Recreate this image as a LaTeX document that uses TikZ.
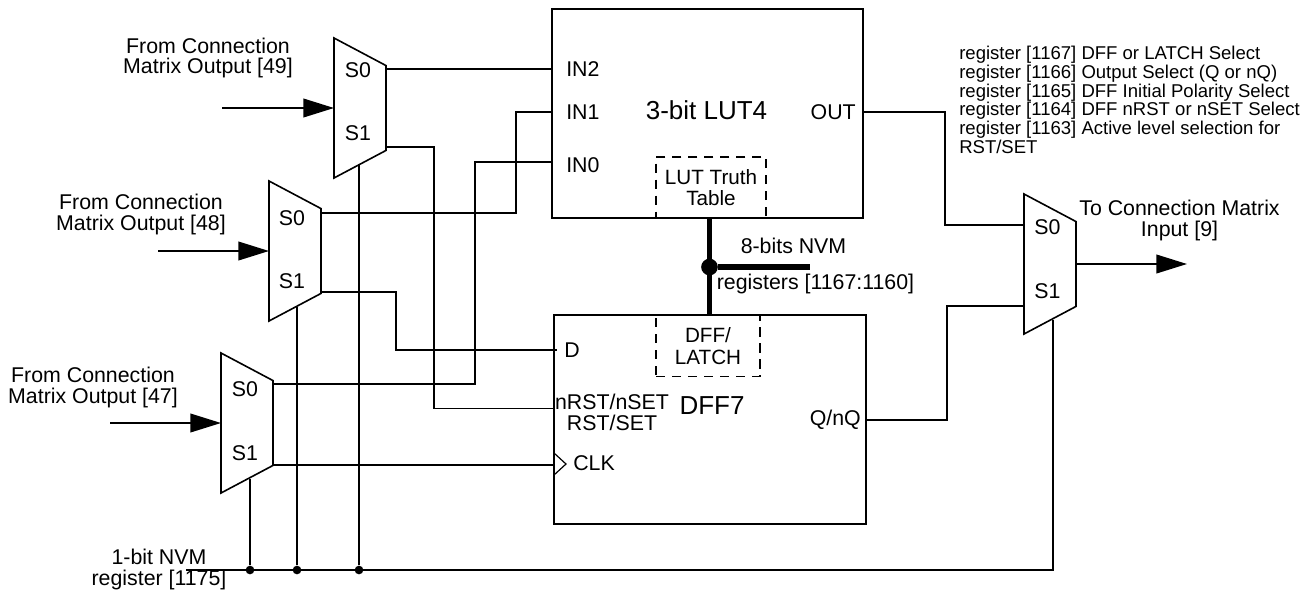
\documentclass[tikz,border=0pt]{standalone}
\usepackage{fontspec}
\setmainfont{Liberation Sans}
\usetikzlibrary{shapes.geometric,arrows.meta}
\tikzset{
  % Base box
  BX/.style={rectangle,draw,line width=1.4pt,inner sep=0pt,
             minimum width=233.5pt,minimum height=157pt},
  % Multiplexer
  MX/.style={trapezium,trapezium angle=72,trapezium stretches=true,shape border rotate=270,draw,line width=1.2pt,
             inner sep=1pt,outer sep=0pt,minimum width=105pt,minimum height=39pt},
  % Dashed inner box
  DB/.style={rectangle,draw,dashed,dash pattern=on 7pt off 5pt,line width=1.1pt,inner sep=0pt,
             align=center,font=\fontsize{15.5}{16}\selectfont},
  % Arrows and wires
  wire/.style={line width=1.4pt},
  arr/.style={-{Triangle[length=23pt,width=14pt]},line width=1.4pt},
  bus/.style={line width=3.8pt},
  % Junctions
  dot/.style={circle,fill,inner sep=0pt,minimum size=6.5pt},
  bigdot/.style={circle,fill,inner sep=0pt,minimum size=12.5pt},
  % Label styles
  lb/.style={font=\fontsize{16}{15.6}\selectfont,align=center,inner sep=0pt},
  tt/.style={font=\fontsize{19.5}{20}\selectfont,inner sep=0pt}
}
\begin{document}
\begin{tikzpicture}[x=0.75pt,y=-0.75pt]
  \useasboundingbox (0,0) rectangle (1314,597);
  % boxes
  \node[BX,minimum width=233pt] (lut) at (707.5,113.5) {};
  \node[BX] (dff) at (710,419.5) {};
  \node[tt] (lutname) at (706.5,110.5) {3-bit LUT4};
  \node[tt] (dffname) at (712,405.5) {DFF7};
  \node[DB,minimum width=82.5pt,minimum height=46pt] (truth) at (711,187.5) {LUT Truth\\Table};
  \node[DB,minimum width=78pt,minimum height=46pt] (latch) at (708,346) {DFF/\\LATCH};
  % muxes
  \node[MX] (mux49) at (360,108) {};
  \node[MX] (mux48) at (295,251) {};
  \node[MX] (mux47) at (247,423) {};
  \node[MX] (muxout) at (1050,264) {};
  \node[lb] (s049) at (358,70) {S0};
  \node[lb] (s149) at (358,133) {S1};
  \node[lb] (s048) at (292,218) {S0};
  \node[lb] (s148) at (292,281) {S1};
  \node[lb] (s047) at (245,389) {S0};
  \node[lb] (s147) at (245,453) {S1};
  \node[lb] (s0out) at (1047.5,227) {S0};
  \node[lb] (s1out) at (1047.5,291) {S1};
  % pins
  \node[lb,anchor=west] (in2) at (566,69) {IN2};
  \node[lb,anchor=west] (in1) at (566,112) {IN1};
  \node[lb,anchor=west] (in0) at (566,165) {IN0};
  \node[lb,anchor=east] (out) at (856,112) {OUT};
  \node[lb,anchor=west] (d) at (564,350) {D};
  \node[lb] (rst) at (612,412.5) {nRST/nSET\\RST/SET};
  \node[lb,anchor=west] (clk) at (573,463) {CLK};
  \node[lb,anchor=east] (q) at (861,420) {Q/nQ};
  % texts
  \node[lb] (from49) at (208,58) {From Connection\\Matrix Output [49]};
  \node[lb] (from48) at (141,214.5) {From Connection\\Matrix Output [48]};
  \node[lb] (from47) at (93,387.5) {From Connection\\Matrix Output [47]};
  \node[lb] (nvm1) at (159,569.5) {1-bit NVM\\register [1175]};
  \node[lb] (toin) at (1179.5,220.5) {To Connection Matrix\\Input [9]};
  \node[lb] (nvm8) at (793.5,246) {8-bits NVM};
  \node[lb] (regs) at (815.5,284) {registers [1167:1160]};
  \node[font=\fontsize{13.9}{14}\selectfont,align=left,inner sep=0pt,anchor=north west] (regsel) at (959,46)
    {register [1167] DFF or LATCH Select\\register [1166] Output Select (Q or nQ)\\register [1165] DFF Initial Polarity Select\\register [1164] DFF nRST or nSET Select\\register [1163] Active level selection for\\RST/SET};
  % free ends and bends
  \coordinate (src49) at (222,108);
  \coordinate (src48) at (158,251);
  \coordinate (src47) at (110,423);
  \coordinate (sink) at (1187,264);
  \coordinate (busin) at (186,570);
  \coordinate (busend) at (1053,570);
  \coordinate (nvmend) at (810,267);
  \coordinate (pin2) at (552,69);
  \coordinate (pin1) at (516,112);
  \coordinate (pin0) at (475,162);
  \coordinate (pr) at (434,408.5);
  \coordinate (pd) at (396,350);
  \coordinate (pclk) at (554,465);
  \coordinate (pout) at (945,225);
  \coordinate (pq) at (947,306);
  % inputs
  \draw[arr] (src49) -- (mux49.west);
  \draw[arr] (src48) -- (mux48.west);
  \draw[arr] (src47) -- (mux47.west);
  \draw[arr] (muxout.east |- sink) -- (sink);
  % wires
  \draw[wire] (mux49.east |- pin2) -- (pin2);
  \draw[wire] (mux49.east |- 0,147) -| (pr) -- (pr -| dff.west);
  \draw[wire] (mux48.east |- 0,213) -| (pin1) -- (pin1 -| lut.west);
  \draw[wire] (mux48.east |- 0,292) -| (pd) -- (557,350);
  \draw[wire] (mux47.east |- 0,384) -| (pin0) -- (pin0 -| lut.west);
  \draw[wire] (mux47.east |- pclk) -- (pclk);
  \draw[wire] (lut.east |- out) -| (pout) -- (pout -| muxout.west);
  \draw[wire] (dff.east |- q) -| (pq) -- (pq -| muxout.west);
  \draw[line width=0.9pt] (554,453) -- (566,464) -- (554,475);
  % enable line
  \node[dot] (j47) at (250,570) {};
  \node[dot] (j48) at (297,570) {};
  \node[dot] (j49) at (359,570) {};
  \draw[wire] (busin) -- (busend) -- (busend |- muxout.south);
  \draw[wire] (j47) -- (j47 |- mux47.south);
  \draw[wire] (j48) -- (j48 |- mux48.south);
  \draw[wire] (j49) -- (j49 |- mux49.south);
  % nvm bus
  \node[bigdot] (jnvm) at (709.5,267) {};
  \draw[bus] (jnvm |- lut.south) -- (jnvm |- dff.north);
  \draw[bus] (jnvm) -- (nvmend);
\end{tikzpicture}
\end{document}
